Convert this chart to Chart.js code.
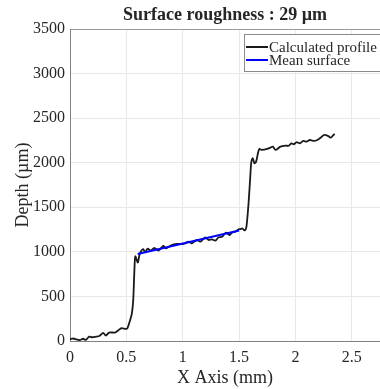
<!DOCTYPE html>
<html>
<head>
<meta charset="utf-8">
<script src="https://cdn.jsdelivr.net/npm/chart.js@4"></script>
<style>
  html, body { margin: 0; padding: 0; background: #fff; }
  #wrap { width: 380px; height: 389px; }
</style>
</head>
<body>
<div id="wrap"><canvas id="myChart" width="380" height="389"></canvas></div>
<script>
// perfil calculado (x em mm, profundidade em µm)
const profileX = [0, 0.03, 0.057, 0.086, 0.116, 0.14, 0.17, 0.19, 0.235, 0.264, 0.294, 0.318, 0.347, 0.398, 0.427, 0.457, 0.496, 0.51, 0.53, 0.549,
    0.561, 0.568, 0.575, 0.58, 0.59, 0.602, 0.615, 0.627, 0.65, 0.665, 0.689, 0.718, 0.748, 0.784, 0.828, 0.85, 0.903, 0.947, 0.992,
    1.021, 1.051, 1.081, 1.126, 1.155, 1.2, 1.229, 1.26, 1.289, 1.318, 1.35, 1.384, 1.413, 1.437, 1.467, 1.496, 1.51, 1.53, 1.55, 1.565,
    1.585, 1.6, 1.609, 1.621, 1.636, 1.651, 1.669, 1.68, 1.704, 1.749, 1.778, 1.8, 1.823, 1.867, 1.912, 1.941, 1.963, 1.986,
    2.01, 2.039, 2.069, 2.099, 2.128, 2.164, 2.194, 2.224, 2.253, 2.283, 2.313, 2.337, 2.348]
const profileDepth = [20, 28, 18, 10, 25, 12, 50, 42, 48, 58, 92, 60, 95, 95, 118, 145, 135, 145, 220, 310,
    460, 684, 900, 950, 915, 880, 960, 1002, 1030, 995, 1035, 1015, 1045, 1015, 1066, 1040, 1077, 1088, 1088,
    1096, 1114, 1096, 1133, 1114, 1163, 1133, 1140, 1125, 1163, 1170, 1215, 1189, 1215, 1226, 1253, 1255, 1262, 1240, 1280,
    1563, 1862, 2012, 2050, 1994, 2012, 2117, 2154, 2143, 2154, 2170, 2180, 2143, 2180, 2191, 2191, 2218, 2207,
    2230, 2218, 2244, 2236, 2255, 2244, 2255, 2281, 2311, 2304, 2281, 2311, 2322]

// superficie media
const meanX = [0.6, 1.5]
const meanDepth = [975, 1240]

const xTicks = [0, 0.5, 1, 1.5, 2, 2.5]
const yTicks = [0, 500, 1000, 1500, 2000, 2500, 3000, 3500]

const serif = 'Liberation Serif'
const ink = '#262626'

const toPoints = (xs, ys) => xs.map((x, i) => ({ x: x, y: ys[i] }))

// legenda no estilo matlab (linha + texto, com caixa)
const boxLegend = {
    id: 'boxLegend',
    afterDraw(chart) {
        const ctx = chart.ctx
        const left = 244, top = 34, w = 140, h = 37
        ctx.save()
        ctx.fillStyle = '#fff'
        ctx.fillRect(left, top, w, h)
        ctx.strokeStyle = '#8a8a8a'
        ctx.lineWidth = 1
        ctx.strokeRect(left + 0.5, top + 0.5, w, h)
        ctx.font = '15px ' + serif
        ctx.textBaseline = 'middle'
        chart.data.datasets.forEach((ds, i) => {
            const y = top + 13 + i * 13
            ctx.strokeStyle = ds.borderColor
            ctx.lineWidth = 2
            ctx.beginPath()
            ctx.moveTo(left + 2, y)
            ctx.lineTo(left + 24, y)
            ctx.stroke()
            ctx.fillStyle = ink
            ctx.fillText(ds.label, left + 25, y + 1)
        })
        ctx.restore()
    }
}

const data = {
    datasets: [{
        label: 'Calculated profile',
        data: toPoints(profileX, profileDepth),
        borderColor: '#1a1a1a',
        borderWidth: 1.8,
        pointRadius: 0,
        showLine: true,
        tension: 0.25,
        order: 2
    },
    {
        label: 'Mean surface',
        data: toPoints(meanX, meanDepth),
        borderColor: '#0000ff',
        borderWidth: 2,
        pointRadius: 0,
        showLine: true,
        order: 1
    }]
}

const config = {
    type: 'scatter',
    data: data,
    options: {
        responsive: false,
        animation: false,
        layout: { padding: 0 },
        plugins: {
            legend: { display: false },
            tooltip: { enabled: false },
            title: {
                display: true,
                fullSize: false,
                text: 'Surface roughness : 29 µm',
                color: ink,
                font: { family: serif, size: 18, weight: 'bold' },
                padding: { top: 5, bottom: 2.4 }
            }
        },
        scales: {
            x: {
                type: 'linear',
                min: 0,
                max: 2.75,
                afterBuildTicks: (axis) => { axis.ticks = xTicks.map(v => ({ value: v })) },
                afterFit: (axis) => { axis.height = 48 },
                ticks: {
                    color: ink,
                    padding: 7,
                    font: { family: serif, size: 16 },
                    callback: (v) => String(v)
                },
                grid: { color: '#e8e8e8', drawTicks: false },
                border: { color: '#808080' },
                title: {
                    display: true,
                    text: 'X Axis (mm)',
                    color: ink,
                    font: { family: serif, size: 18 },
                    padding: { top: 0, bottom: 0 }
                }
            },
            y: {
                type: 'linear',
                min: 0,
                max: 3500,
                afterBuildTicks: (axis) => { axis.ticks = yTicks.map(v => ({ value: v })) },
                afterFit: (axis) => { axis.width = 70 },
                ticks: {
                    color: ink,
                    padding: 5,
                    font: { family: serif, size: 16 },
                    callback: (v) => String(v)
                },
                grid: {
                    color: (c) => (c.tick && c.tick.value === 3500) ? '#9a9a9a' : '#e8e8e8',
                    drawTicks: false
                },
                border: { color: '#808080' },
                title: {
                    display: true,
                    text: 'Depth (µm)',
                    color: ink,
                    font: { family: serif, size: 18 },
                    padding: { top: 12, bottom: 0 }
                }
            }
        }
    },
    plugins: [boxLegend]
}

const myChart = new Chart(
    document.getElementById('myChart'),
    config
)
</script>
</body>
</html>
